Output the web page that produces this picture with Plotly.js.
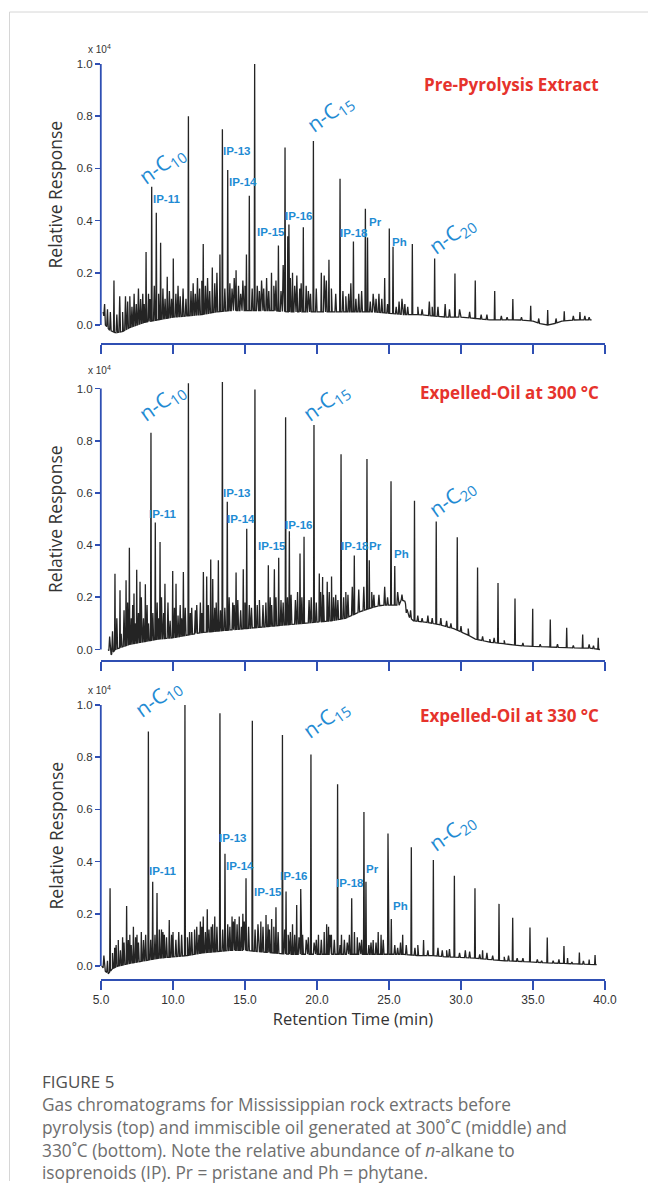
<!DOCTYPE html>
<html><head><meta charset="utf-8">
<script src="https://cdn.plot.ly/plotly-3.0.1.min.js"></script>
<style>html,body{margin:0;padding:0;background:#fff}#chart{width:648px;height:1189px}</style>
</head><body><div id="chart"></div>
<script>
// ---------------- DATA ----------------
// Retention time axis ticks
const xTickVals = [5, 10, 15, 20, 25, 30, 35, 40];
const xTickText = ['5.0', '10.0', '15.0', '20.0', '25.0', '30.0', '35.0', '40.0'];
const yTickVals = [0, 0.2, 0.4, 0.6, 0.8, 1.0];
const yTickText = ['0.0', '0.2', '0.4', '0.6', '0.8', '1.0'];

// --- Pre-Pyrolysis Extract (top) ---
const topBaseT = [5.15,5.3,5.6,6.0,6.5,7.0,7.5,8.0,9.0,10.0,11.0,12.0,13.0,14.0,15.0,16.0,17.0,18.0,19.0,20.0,21.0,22.0,23.0,24.0,25.0,26.0,27.0,28.0,29.0,30.0,31.0,32.0,33.0,34.0,35.0,35.5,36.0,36.5,37.0,38.0,39.07];
const topBaseV = [0.05,0.0,-0.02,-0.03,-0.025,-0.01,0.0,0.01,0.02,0.03,0.035,0.04,0.05,0.055,0.055,0.055,0.055,0.05,0.05,0.05,0.05,0.05,0.05,0.05,0.045,0.04,0.04,0.035,0.03,0.03,0.025,0.02,0.02,0.02,0.015,0.005,0.0,0.005,0.015,0.02,0.02];
const topPeakT = [5.9,8.13,8.52,8.84,9.14,9.6,10.02,11.07,12.1,12.73,13.26,13.43,13.8,14.38,15.1,15.3,15.67,16.84,17.32,17.78,17.97,18.05,18.3,19.05,19.75,20.3,20.83,21.6,22.53,23.36,23.51,24.7,25.02,25.28,26.62,28.17,29.58,30.99,32.34,33.6,34.84,36.02,37.17,38.26];
const topPeakV = [0.17,0.28,0.53,0.43,0.315,0.185,0.255,0.80,0.31,0.22,0.27,0.75,0.594,0.21,0.27,0.495,1.0,0.2,0.305,0.68,0.34,0.385,0.2,0.375,0.705,0.2,0.25,0.56,0.32,0.445,0.335,0.18,0.37,0.30,0.31,0.255,0.197,0.17,0.13,0.1,0.074,0.057,0.053,0.05];
const topGrassT = [5.25,5.45,5.65,6.1,6.3,6.5,6.7,6.85,7.0,7.15,7.3,7.45,7.6,7.75,7.9,8.0,8.3,8.4,8.7,9.0,9.3,9.45,9.75,9.9,10.2,10.35,10.5,10.7,10.9,11.25,11.4,11.55,11.7,11.85,12.0,12.25,12.4,12.55,12.9,13.05,13.6,13.95,14.1,14.25,14.55,14.7,14.85,15.0,15.5,15.85,16.0,16.15,16.3,16.5,16.65,17.0,17.15,17.5,17.65,18.15,18.45,18.6,18.8,18.9,19.25,19.4,19.55,19.95,20.5,20.65,21.0,21.3,21.8,22.0,22.2,22.35,22.7,22.9,23.1,23.7,23.9,24.1,24.3,24.5,24.9,25.5,25.7,25.9,26.1,26.3,27.0,27.3,27.8,28.0,28.4,28.9,29.2,29.9,30.6,31.4,31.8,32.8,33.2,34.2,35.4,36.6,37.8,38.6,38.9];
const topGrassV = [0.08,0.06,0.05,0.04,0.11,0.05,0.11,0.09,0.11,0.07,0.12,0.08,0.14,0.1,0.12,0.08,0.12,0.1,0.15,0.12,0.14,0.1,0.13,0.1,0.12,0.15,0.11,0.14,0.1,0.13,0.16,0.12,0.18,0.14,0.17,0.15,0.18,0.13,0.16,0.2,0.14,0.16,0.14,0.18,0.15,0.12,0.17,0.15,0.14,0.15,0.13,0.17,0.14,0.18,0.13,0.15,0.17,0.13,0.23,0.18,0.15,0.19,0.14,0.16,0.15,0.13,0.12,0.14,0.19,0.17,0.14,0.12,0.13,0.11,0.12,0.16,0.1,0.12,0.13,0.09,0.12,0.1,0.12,0.1,0.08,0.07,0.09,0.1,0.08,0.07,0.07,0.06,0.09,0.07,0.07,0.08,0.06,0.06,0.05,0.04,0.04,0.035,0.03,0.03,0.025,0.025,0.035,0.035,0.03];

// --- Expelled-Oil at 300 °C (middle) ---
const midBaseT = [5.5,5.7,6.0,7.0,8.0,9.0,10.0,11.0,12.0,13.0,14.0,15.0,16.0,17.0,18.0,19.0,20.0,21.0,22.0,23.0,23.8,24.5,25.0,25.7,25.85,26.1,26.4,26.7,27.5,28.5,29.5,30.5,31.0,32.0,33.0,34.0,35.0,36.0,37.0,38.0,39.0,39.65];
const midBaseV = [0.0,-0.02,0.0,0.02,0.03,0.04,0.045,0.055,0.065,0.07,0.075,0.08,0.085,0.09,0.095,0.1,0.105,0.11,0.12,0.145,0.16,0.17,0.17,0.17,0.19,0.185,0.125,0.11,0.105,0.095,0.08,0.055,0.04,0.028,0.022,0.015,0.012,0.01,0.008,0.006,0.005,0.0];
const midPeakT = [5.97,6.32,6.74,6.97,7.29,7.48,7.71,8.08,8.47,8.77,9.1,9.44,9.98,10.21,10.72,11.07,12.11,12.34,12.62,12.76,13.15,13.43,13.77,14.38,14.88,15.12,15.69,16.62,17.04,17.34,17.82,18.08,18.82,19.1,19.79,20.16,20.39,20.71,21.01,21.67,22.59,23.47,23.63,25.14,25.4,26.77,28.28,29.74,31.15,32.57,33.75,34.98,36.2,37.34,38.45,39.53];
const midPeakV = [0.29,0.227,0.265,0.39,0.215,0.306,0.26,0.25,0.83,0.487,0.412,0.252,0.301,0.252,0.297,1.02,0.297,0.28,0.345,0.27,0.342,1.025,0.566,0.295,0.307,0.463,0.996,0.323,0.307,0.352,0.89,0.453,0.368,0.432,0.86,0.291,0.278,0.26,0.28,0.748,0.36,0.73,0.342,0.645,0.32,0.57,0.49,0.43,0.314,0.255,0.195,0.156,0.115,0.083,0.057,0.045];
const midGrassT = [5.6,5.8,6.1,6.4,6.6,6.85,7.1,7.2,7.4,7.6,7.8,7.95,8.2,8.3,8.6,8.9,9.0,9.2,9.35,9.65,9.8,10.1,10.35,10.5,10.6,10.85,11.2,11.3,11.55,11.65,11.9,12.0,12.45,12.9,13.0,13.3,13.6,13.9,14.15,14.25,14.5,14.7,15.0,15.3,15.45,15.85,16.0,16.25,16.45,16.75,16.85,17.15,17.5,17.65,17.95,18.2,18.5,18.65,18.95,19.45,19.6,19.95,20.25,20.45,20.85,21.15,21.3,21.45,21.85,22.0,22.15,22.45,22.9,23.25,23.8,23.95,24.3,24.7,24.9,25.6,25.9,26.2,26.5,27.0,27.3,27.7,28.0,28.6,29.0,29.3,30.0,30.5,31.5,32.0,32.3,33.0,34.3,35.5,36.7,37.8,38.9,39.2];
const midGrassV = [0.05,0.07,0.12,0.06,0.15,0.18,0.12,0.17,0.1,0.14,0.2,0.12,0.17,0.1,0.14,0.18,0.12,0.2,0.14,0.18,0.11,0.16,0.13,0.17,0.12,0.16,0.14,0.16,0.15,0.17,0.18,0.14,0.17,0.16,0.18,0.15,0.16,0.2,0.18,0.17,0.19,0.15,0.18,0.17,0.16,0.17,0.19,0.17,0.18,0.2,0.17,0.2,0.19,0.18,0.2,0.21,0.19,0.22,0.2,0.19,0.2,0.18,0.22,0.21,0.22,0.2,0.21,0.19,0.2,0.22,0.21,0.24,0.23,0.24,0.22,0.21,0.21,0.24,0.2,0.22,0.21,0.14,0.15,0.13,0.12,0.13,0.12,0.12,0.11,0.1,0.09,0.08,0.05,0.04,0.045,0.035,0.025,0.02,0.02,0.015,0.02,0.015];

// --- Expelled-Oil at 330 °C (bottom) ---
const botBaseT = [5.05,5.3,5.5,5.8,6.2,7.0,8.0,9.0,10.0,11.0,12.0,13.0,14.0,15.0,16.0,17.0,18.0,19.0,20.0,21.0,22.0,23.0,24.0,25.0,26.0,27.0,28.0,29.0,30.0,31.0,32.0,33.0,34.0,35.0,36.0,37.0,38.0,39.42];
const botBaseV = [0.0,-0.02,-0.03,-0.01,0.0,0.01,0.02,0.03,0.035,0.04,0.05,0.055,0.06,0.06,0.055,0.05,0.045,0.045,0.045,0.045,0.045,0.045,0.045,0.045,0.045,0.04,0.04,0.035,0.033,0.03,0.025,0.02,0.018,0.015,0.012,0.01,0.008,0.005];
const botPeakT = [5.63,5.95,6.2,6.5,6.78,7.0,7.25,7.5,7.8,8.29,8.59,8.89,9.2,9.4,9.74,10.0,10.83,11.15,11.5,11.9,12.1,12.38,12.65,12.9,13.26,13.61,14.1,14.3,14.6,14.85,15.07,15.51,16.1,16.46,16.85,17.15,17.6,17.85,18.3,18.59,18.87,19.58,20.1,20.5,20.67,20.8,21.0,21.43,21.7,22.41,22.6,22.8,23.26,23.4,23.9,24.25,24.45,24.93,25.16,25.95,26.55,27.4,28.08,29.54,30.97,31.5,32.64,33.59,34.79,35.99,37.15,37.4,38.22,38.9,39.31];
const botPeakV = [0.298,0.07,0.1,0.11,0.23,0.12,0.15,0.12,0.13,0.898,0.323,0.28,0.14,0.12,0.176,0.13,1.0,0.13,0.14,0.17,0.19,0.217,0.15,0.19,0.968,0.43,0.19,0.18,0.19,0.2,0.336,0.94,0.17,0.195,0.18,0.225,0.885,0.285,0.16,0.234,0.295,0.81,0.12,0.13,0.16,0.15,0.12,0.696,0.12,0.26,0.13,0.11,0.59,0.323,0.1,0.13,0.12,0.508,0.18,0.12,0.455,0.1,0.406,0.346,0.298,0.06,0.238,0.185,0.147,0.109,0.077,0.03,0.052,0.025,0.042];
const botGrassT = [5.2,5.45,5.8,6.05,6.35,6.6,6.9,7.1,7.4,7.6,7.95,8.1,8.45,8.75,9.05,9.3,9.55,9.9,10.2,10.4,10.6,11.0,11.3,11.65,11.8,12.0,12.25,12.5,12.75,13.05,13.45,13.8,13.95,14.2,14.45,14.75,14.95,15.25,15.7,15.9,16.25,16.6,16.7,17.0,17.3,17.75,18.0,18.15,18.45,18.75,19.0,19.25,19.4,19.8,19.95,20.3,20.9,21.2,21.6,21.9,22.1,22.25,22.95,23.1,23.6,23.75,24.1,24.6,25.4,25.6,25.8,26.2,26.8,27.0,27.7,28.4,28.7,29.0,29.2,29.9,30.3,30.6,31.3,31.8,32.2,33.0,33.3,33.9,34.3,35.3,35.6,36.4,36.8,37.7,38.5];
const botGrassV = [0.04,0.02,0.05,0.08,0.06,0.09,0.1,0.08,0.11,0.09,0.1,0.12,0.1,0.12,0.14,0.13,0.11,0.12,0.1,0.13,0.12,0.11,0.13,0.15,0.12,0.15,0.13,0.14,0.16,0.15,0.14,0.16,0.15,0.17,0.16,0.15,0.17,0.15,0.14,0.16,0.15,0.16,0.14,0.15,0.13,0.14,0.12,0.13,0.12,0.11,0.12,0.1,0.11,0.09,0.1,0.1,0.12,0.1,0.08,0.1,0.09,0.12,0.09,0.1,0.08,0.09,0.09,0.1,0.08,0.07,0.09,0.08,0.07,0.08,0.06,0.07,0.06,0.06,0.065,0.05,0.06,0.055,0.045,0.05,0.04,0.035,0.04,0.03,0.03,0.025,0.02,0.02,0.025,0.015,0.02];

// ---------------- DRAWING ----------------
const W = 648, H = 1189;
const BLUE = '#2f4fb3', TRACE = '#242424', LBL = '#1f8bd3', RED = '#e6332c', TXT = '#333333';
const px = v => v / W;
const py = v => 1 - v / H;

function baseAt(T, V, t) {
  if (t <= T[0]) return V[0];
  for (let i = 1; i < T.length; i++) {
    if (t <= T[i]) { const f = (t - T[i-1]) / (T[i] - T[i-1]); return V[i-1] + f * (V[i] - V[i-1]); }
  }
  return V[V.length - 1];
}
function buildLine(bT, bV, pT, pV, gT, gV) {
  const pts = bT.map((t, i) => [t, bV[i]]);
  const spike = (t, v, hw) => {
    pts.push([t - hw, baseAt(bT, bV, t - hw)]);
    pts.push([t, v]);
    pts.push([t + hw, baseAt(bT, bV, t + hw)]);
  };
  pT.forEach((t, i) => spike(t, pV[i], 0.03));
  gT.forEach((t, i) => spike(t, gV[i], 0.055));
  const t0 = bT[0], t1 = bT[bT.length - 1];
  const kept = pts.filter(p => p[0] >= t0 && p[0] <= t1).sort((a, b) => a[0] - b[0]);
  return { x: kept.map(p => p[0]), y: kept.map(p => p[1]) };
}

// panel pixel geometry: zero line, x-axis line, top of plot area
const panels = [
  { zero: 325,   axis: 343, top: 48,  bT: topBaseT, bV: topBaseV, pT: topPeakT, pV: topPeakV, gT: topGrassT, gV: topGrassV },
  { zero: 649.5, axis: 660, top: 372, bT: midBaseT, bV: midBaseV, pT: midPeakT, pV: midPeakV, gT: midGrassT, gV: midGrassV },
  { zero: 966,   axis: 979, top: 689, bT: botBaseT, bV: botBaseV, pT: botPeakT, pV: botPeakV, gT: botGrassT, gV: botGrassV }
];
const UNIT = 261; // px per 1.0

const traces = [];
const layout = {
  width: W, height: H, margin: { l: 0, r: 0, t: 0, b: 0 },
  paper_bgcolor: '#fff', plot_bgcolor: 'rgba(0,0,0,0)',
  showlegend: false, annotations: [], shapes: []
};
function note(o) {
  layout.annotations.push(Object.assign({ xref: 'paper', yref: 'paper', xanchor: 'center', yanchor: 'middle', showarrow: false }, o));
}

panels.forEach((p, i) => {
  const n = i === 0 ? '' : String(i + 1);
  const line = buildLine(p.bT, p.bV, p.pT, p.pV, p.gT, p.gV);
  traces.push({ type: 'scatter', mode: 'lines', x: line.x, y: line.y, xaxis: 'x' + n, yaxis: 'y' + n,
    line: { color: TRACE, width: 1.3 }, hoverinfo: 'skip' });
  const isBottom = i === 2;
  const xa = {
    domain: [px(101), px(605)], range: [5, 40], anchor: 'y' + n,
    showline: true, linecolor: BLUE, linewidth: 1.8, mirror: false,
    ticks: 'outside', ticklen: 9, tickwidth: 1.8, tickcolor: BLUE,
    tickvals: xTickVals, ticktext: xTickText, showticklabels: isBottom,
    tickfont: { family: 'Liberation Sans Narrow, Arial Narrow, sans-serif', size: 12, color: TXT },
    showgrid: false, zeroline: false, fixedrange: true
  };
  if (isBottom) xa.title = { text: 'Retention Time (min)', font: { family: 'Open Sans, sans-serif', size: 16.5, color: TXT }, standoff: 1 };
  layout['xaxis' + n] = xa;
  layout['yaxis' + n] = {
    domain: [py(p.axis), py(p.top)],
    range: [(p.zero - p.axis) / UNIT, (p.zero - p.top) / UNIT], anchor: 'x' + n,
    showline: false, ticks: 'outside', ticklen: 5, tickwidth: 1.6, tickcolor: BLUE,
    tickvals: yTickVals, ticktext: yTickText,
    tickfont: { family: 'Liberation Sans, Arial, sans-serif', size: 11.5, color: TXT },
    showgrid: false, zeroline: false, fixedrange: true
  };
  // y-axis line spans 0 .. 1.0 only
  layout.shapes.push({ type: 'line', xref: 'paper', yref: 'y' + n, x0: px(100.8), x1: px(100.8), y0: 0, y1: 1.0,
    line: { color: BLUE, width: 1.8 } });
  // axis title
  note({ text: 'Relative Response', yref: 'y' + n, x: px(55), y: 0.5, textangle: -90,
    font: { family: 'Open Sans, sans-serif', size: 17.5, color: TXT } });
});

// multiplier labels
[49, 370, 690].forEach(y => note({ text: 'x 10<sup>4</sup>', x: px(99), y: py(y),
  font: { family: 'Liberation Sans, Arial, sans-serif', size: 10, color: TXT } }));

// panel titles
[['Pre-Pyrolysis Extract', 85], ['Expelled-Oil at 300 °C', 392], ['Expelled-Oil at 330 °C', 715]].forEach(([t, y]) =>
  note({ text: '<b>' + t + '</b>', x: px(601), y: py(y), xanchor: 'right',
    font: { family: 'Open Sans, sans-serif', size: 17, color: RED } }));

// peak labels [text, cx, cy]
const peakLabels = [
  // top
  ['IP-11',166,199],['IP-13',237,151],['IP-14',243,182],['IP-15',271,232],['IP-16',299,216],['IP-18',354,233],['Pr',375,222],['Ph',399,242],
  // middle
  ['IP-11',162,514],['IP-13',237,493],['IP-14',241,519],['IP-15',272,546],['IP-16',299,525],['IP-18',355,546],['Pr',375,546],['Ph',401,554],
  // bottom
  ['IP-11',162,871],['IP-13',233,838],['IP-14',240,866],['IP-15',268,892],['IP-16',294,876],['IP-18',350,883],['Pr',372,869],['Ph',400,906]
];
peakLabels.forEach(([t, x, y]) => note({ text: '<b>' + t + '</b>', x: px(x), y: py(y),
  font: { family: 'Liberation Sans Narrow, Arial Narrow, sans-serif', size: 11.5, color: LBL } }));

const alkLabels = [
  ['10',162,165],['15',330,113],['20',452,235],
  ['10',162,402],['15',326,402],['20',452,498],
  ['10',158,698],['15',326,719],['20',452,832]
];
alkLabels.forEach(([s, x, y]) => note({ text: 'n-C<sub>' + s + '</sub>', x: px(x), y: py(y), textangle: -36,
  font: { family: 'Open Sans, sans-serif', size: 21, color: LBL } }));

// caption
const capLines = [
  ['FIGURE 5', 1081, 17, '#505050'],
  ['Gas chromatograms for Mississippian rock extracts before', 1104, 17.3, '#6e6e6e'],
  ['pyrolysis (top) and immiscible oil generated at 300˚C (middle) and', 1127, 17.3, '#6e6e6e'],
  ['330˚C (bottom). Note the relative abundance of <i>n</i>-alkane to', 1150, 17.3, '#6e6e6e'],
  ['isoprenoids (IP). Pr = pristane and Ph = phytane.', 1172, 17.3, '#6e6e6e']
];
capLines.forEach(([t, y, s, c]) => note({ text: t, x: px(40), y: py(y), xanchor: 'left',
  font: { family: 'Open Sans, sans-serif', size: s, color: c } }));

// page frame lines
layout.shapes.push({ type: 'line', xref: 'paper', yref: 'paper', x0: px(9.5), x1: 1, y0: py(12), y1: py(12), line: { color: '#d6d6d6', width: 1 } });
layout.shapes.push({ type: 'line', xref: 'paper', yref: 'paper', x0: px(9.5), x1: px(9.5), y0: py(12), y1: py(1181), line: { color: '#d6d6d6', width: 1 } });

Plotly.newPlot('chart', traces, layout, { staticPlot: true, displayModeBar: false });
</script></body></html>
